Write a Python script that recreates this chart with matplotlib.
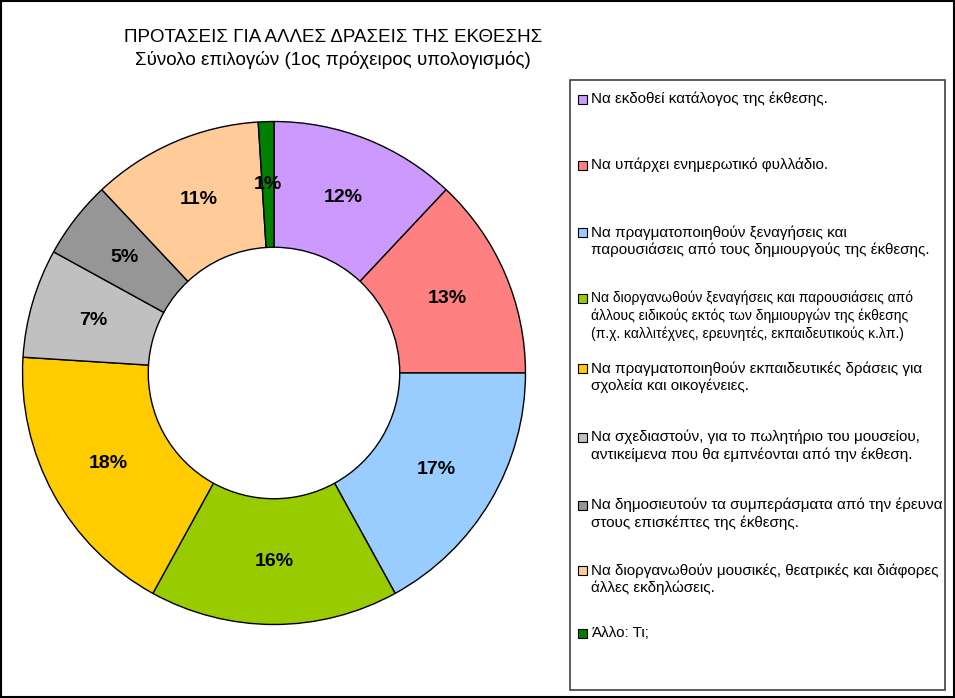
import matplotlib.pyplot as plt
from matplotlib.patches import Rectangle

plt.rcParams['font.family'] = ['Liberation Sans', 'DejaVu Sans']

TITLE = 'ΠΡΟΤΑΣΕΙΣ ΓΙΑ ΑΛΛΕΣ ΔΡΑΣΕΙΣ ΤΗΣ ΕΚΘΕΣΗΣ\nΣύνολο επιλογών (1ος πρόχειρος υπολογισμός)'

LABELS = [
    'Να εκδοθεί κατάλογος της έκθεσης.',
    'Να υπάρχει ενημερωτικό φυλλάδιο.',
    'Να πραγματοποιηθούν ξεναγήσεις και\nπαρουσιάσεις από τους δημιουργούς της έκθεσης.',
    'Να διοργανωθούν ξεναγήσεις και παρουσιάσεις από\nάλλους ειδικούς εκτός των δημιουργών της έκθεσης\n(π.χ. καλλιτέχνες, ερευνητές, εκπαιδευτικούς κ.λπ.)',
    'Να πραγματοποιηθούν εκπαιδευτικές δράσεις για\nσχολεία και οικογένειες.',
    'Να σχεδιαστούν, για το πωλητήριο του μουσείου,\nαντικείμενα που θα εμπνέονται από την έκθεση.',
    'Να δημοσιευτούν τα συμπεράσματα από την έρευνα\nστους επισκέπτες της έκθεσης.',
    'Να διοργανωθούν μουσικές, θεατρικές και διάφορες\nάλλες εκδηλώσεις.',
    'Άλλο: Τι;',
]
PCT = [12, 13, 17, 16, 18, 7, 5, 11, 1]
COLORS = ['#CC99FF', '#FF8080', '#99CCFF', '#99CC00', '#FFCC00',
          '#C0C0C0', '#969696', '#FFCC99', '#008000']

W, H = 955, 698
fig = plt.figure(figsize=(W / 100, H / 100), dpi=100)

# donut: centre (274, 373) px, radius 254 px
cx, cy, r = 274, 373, 254
ax = fig.add_axes([(cx - r) / W, (H - cy - r) / H, 2 * r / W, 2 * r / H])
ax.pie(PCT, colors=COLORS, startangle=90, counterclock=False,
       autopct='%.0f%%', pctdistance=0.75, radius=1,
       wedgeprops=dict(width=0.5, edgecolor='black', linewidth=1),
       textprops=dict(fontsize=14, fontweight='bold', color='black'))
ax.set_xlim(-1.01, 1.01)
ax.set_ylim(-1.01, 1.01)
ax.axis('off')

fig.text(333 / W, 1 - 49 / H, TITLE, ha='center', va='center',
         fontsize=13.5, linespacing=1.3)

# legend box
fig.add_artist(Rectangle((570 / W, 8 / H), 375 / W, 610 / H,
                         transform=fig.transFigure, fill=False,
                         edgecolor='#404040', linewidth=1.2))
tops = [99, 165, 232, 298, 368, 437, 505, 570, 633]
for lab, col, y in zip(LABELS, COLORS, tops):
    fig.add_artist(Rectangle((578 / W, 1 - (y + 5) / H), 9 / W, 9 / H,
                             transform=fig.transFigure, facecolor=col,
                             edgecolor='black', linewidth=0.8))
    if lab.count('\n') == 2:
        fs, ls = 10, 1.3
    else:
        fs, ls = 11, 1.25
    fig.text(591 / W, 1 - (y - 7) / H, lab, ha='left', va='top',
             fontsize=fs, linespacing=ls, clip_on=False)

# outer frame
fig.add_artist(Rectangle((0.001, 0.001), 0.998, 0.998, transform=fig.transFigure,
                         fill=False, edgecolor='black', linewidth=1.5))

fig.savefig('out.png', dpi=100)
